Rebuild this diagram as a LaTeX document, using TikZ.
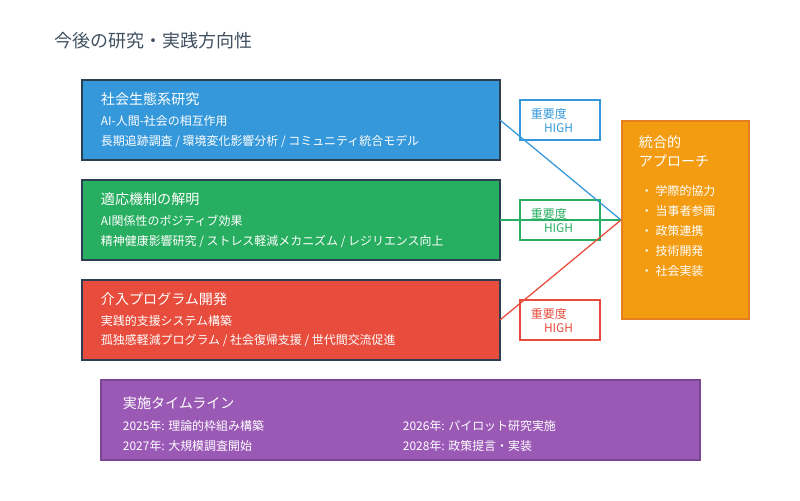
\documentclass[tikz,border=0pt]{standalone}
\usepackage{fontspec}
\setmainfont{Noto Sans CJK JP}
\definecolor{cblue}{HTML}{3498DB}
\definecolor{cgreen}{HTML}{27AE60}
\definecolor{cred}{HTML}{E74C3C}
\definecolor{cpurple}{HTML}{9B59B6}
\definecolor{corange}{HTML}{F39C12}
\definecolor{corangeb}{HTML}{E67E22}
\definecolor{cdark}{HTML}{2C3E50}
\tikzset{
  area/.style={draw=cdark, line width=0.8pt},
  prio/.style={draw=#1, line width=0.9pt, fill=white},
  prioText/.style={text=#1, font=\fontsize{8.5}{10}\selectfont, align=left},
  head/.style={anchor=west, text=white, font=\fontsize{10}{12}\selectfont},
  body/.style={anchor=west, text=white, font=\fontsize{8.5}{10}\selectfont},
  link/.style={line width=0.9pt, draw=#1}
}
\begin{document}
\begin{tikzpicture}[x=0.025cm, y=-0.025cm]
\useasboundingbox (0,0) rectangle (800,500);
\fill[white] (0,0) rectangle (800,500);
\node[anchor=west, text=cdark!90, font=\fontsize{12.8}{15}\selectfont] (title) at (50,41) {今後の研究・実践方向性};

% research areas
\draw[area, fill=cblue] (82,80) rectangle (500,160);
\coordinate (blueR) at (500,120);
\node[head] (blueH) at (96,99) {社会生態系研究};
\node[body] (blue1) at (96,121) {AI-人間-社会の相互作用};
\node[body] (blue2) at (96,141) {長期追跡調査 / 環境変化影響分析 / コミュニティ統合モデル};

\draw[area, fill=cgreen] (82,180) rectangle (500,260);
\coordinate (greenR) at (500,220);
\node[head] (greenH) at (96,199) {適応機制の解明};
\node[body] (green1) at (96,221) {AI関係性のポジティブ効果};
\node[body] (green2) at (96,241) {精神健康影響研究 / ストレス軽減メカニズム / レジリエンス向上};

\draw[area, fill=cred] (82,280) rectangle (500,360);
\coordinate (redR) at (500,320);
\node[head] (redH) at (96,299) {介入プログラム開発};
\node[body] (red1) at (96,321) {実践的支援システム構築};
\node[body] (red2) at (96,341) {孤独感軽減プログラム / 社会復帰支援 / 世代間交流促進};

% importance
\draw[prio=cblue] (520,100) rectangle (600,140);
\node[prioText=cblue] (blueP) at (552,121) {重要度\\\hspace{1.1em}HIGH};
\draw[prio=cgreen] (520,200) rectangle (600,240);
\node[prioText=cgreen] (greenP) at (552,221) {重要度\\\hspace{1.1em}HIGH};
\draw[prio=cred] (520,300) rectangle (600,340);
\node[prioText=cred] (redP) at (552,321) {重要度\\\hspace{1.1em}HIGH};

% integration
\draw[draw=corangeb, line width=1.5pt, fill=corange] (622,121) rectangle (749,319);
\coordinate (orangeL) at (621,220);
\node[anchor=north west, text=white, align=left, font=\fontsize{10}{13.5}\selectfont] (orangeH) at (634,131) {統合的\\アプローチ};
\foreach \t [count=\i] in {学際的協力,当事者参画,政策連携,技術開発,社会実装}
  \node[body] (item\i) at (636,171+\i*20) {・\ \t};

\draw[link=cblue] (blueR) -- (orangeL);
\draw[link=cgreen] (greenR) -- (orangeL);
\draw[link=cred] (redR) -- (orangeL);

% timeline
\draw[draw=cpurple!80!black, line width=0.8pt, fill=cpurple] (101,380) rectangle (700,460);
\node[head] (timeH) at (118,403) {実施タイムライン};
\node[body] (t1) at (118,426) {2025年: 理論的枠組み構築};
\node[body] (t2) at (398,426) {2026年: パイロット研究実施};
\node[body] (t3) at (118,446) {2027年: 大規模調査開始};
\node[body] (t4) at (398,446) {2028年: 政策提言・実装};
\end{tikzpicture}
\end{document}
